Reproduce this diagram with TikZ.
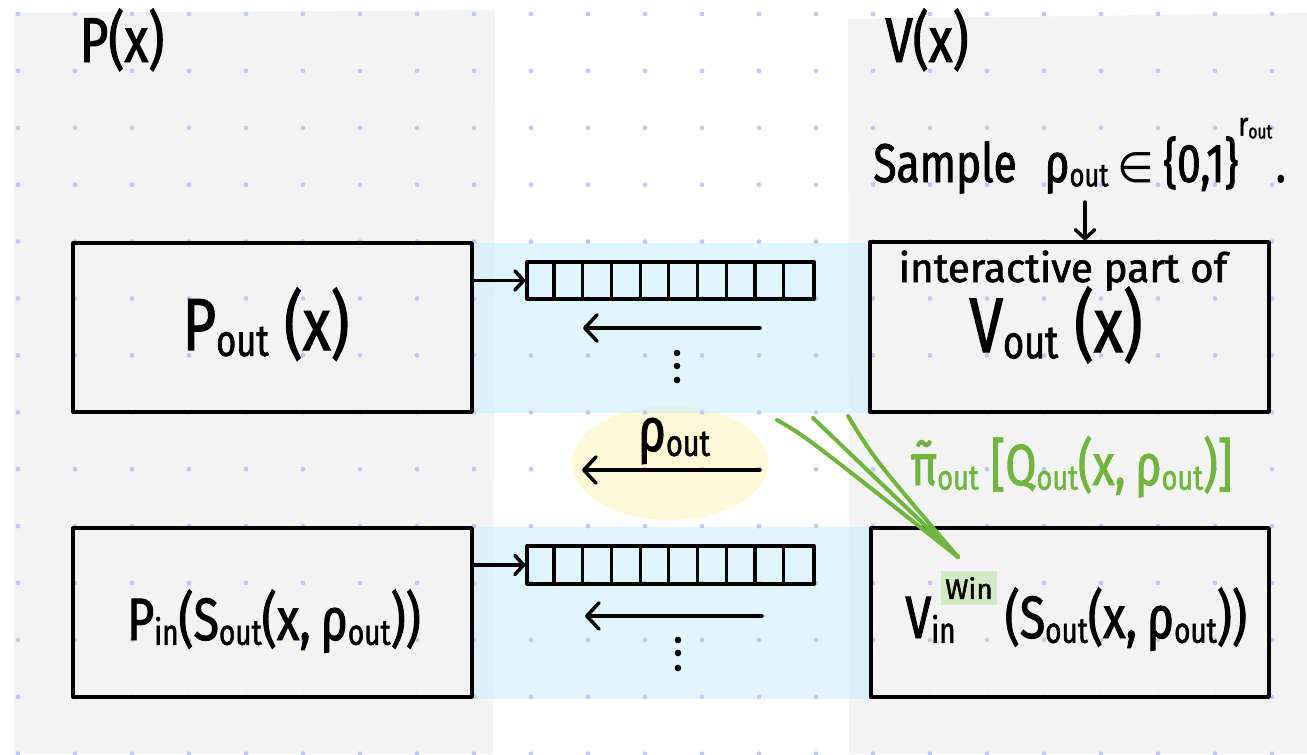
\documentclass[tikz,border=0pt]{standalone}
\usepackage{fontspec}
\usepackage{graphicx}
\setmainfont{Fira Sans}
\newfontfamily\hand[FakeStretch=0.78,FakeBold=1.5]{Fira Sans}
\newfontfamily\handw[FakeBold=1.5]{Fira Sans}
\newfontfamily\dvs{DejaVu Sans}
\usetikzlibrary{arrows.meta}
\definecolor{panel}{RGB}{243,243,243}
\definecolor{band}{RGB}{203,238,252}
\definecolor{yel}{RGB}{253,248,214}
\definecolor{dotc}{RGB}{198,198,243}
\definecolor{grn}{RGB}{113,181,64}
\definecolor{winbg}{RGB}{212,234,196}
\newcommand\lo[1]{\raisebox{-0.08em}{\scalebox{0.6}{#1}}}
\newcommand\hsz[1]{\fontsize{#1}{#1}\selectfont}
\begin{document}
\begin{tikzpicture}[x=0.02cm,y=-0.02cm,
  ink/.style={line width=2pt, line cap=round, line join=round},
  boxn/.style={draw, line width=2pt, line join=round, inner sep=0pt},
  arrn/.style={draw, line width=1.9pt, line join=round, inner sep=0pt},
  cell/.style={line width=1.8pt},
  backarr/.style={ink, -{Straight Barb[length=7pt,width=15pt,round]}},
  fwdarr/.style={ink, -{Straight Barb[length=5pt,width=11pt,round]}},
  gline/.style={draw=grn, line width=2.3pt, line cap=round, line join=round},
  lbl/.style={inner sep=0pt, anchor=base}]
\useasboundingbox (0,0) rectangle (1307,754);
% panels
\fill[panel] (14,13) -- (495,10) -- (493,754) -- (14,754) -- cycle;
\fill[panel] (848,19) -- (1307,13) -- (1307,754) -- (849,754) -- cycle;
% yellow blob
\fill[yel] (670,463) ellipse [x radius=98, y radius=57];
% bands
\fill[band, opacity=0.58] (472,243) rectangle (870,413);
\fill[band, opacity=0.58] (472,527) rectangle (870,699);
% dot grid
\foreach \i in {0,...,22} \foreach \j in {0,...,13}
  \fill[dotc] ({18+57*\i},{14+56.9*\j}) circle (2.4);
% headings
\node[lbl] (px) at (122,62) {\hand\hsz{36}P(x)};
\node[lbl] (vx) at (927,62) {\hand\hsz{36}V(x)};
% boxes
\node[boxn, minimum width=7.98cm, minimum height=3.38cm] (pout) at (272.5,327.5) {};
\node[boxn, minimum width=7.98cm, minimum height=3.38cm] (pin) at (272.5,612.5) {};
\node[boxn, minimum width=7.98cm, minimum height=3.40cm] (vout) at (1069.5,327) {};
\node[boxn, minimum width=7.96cm, minimum height=3.38cm] (vin) at (1070,612.5) {};
% box texts
\node[lbl] (tpout) at (266,350) {\hand\hsz{42}P\lo{out} (x)};
\node[lbl] (tint) at (1063,282) {\handw\hsz{23}interactive part of};
\node[lbl] (tvout) at (1056,352) {\hand\hsz{44}V\lo{out} (x)};
\node[lbl] (tpin) at (274,640) {\hand\hsz{34}P\lo{in}(S\lo{out}(x,\,ρ\lo{out}))};
\node[lbl, anchor=base west] (tvin) at (905,638) {\hand\hsz{34}V\lo{in}\hspace{28pt}(S\lo{out}(x,\,ρ\lo{out}))};
\node[fill=winbg, minimum width=1.12cm, minimum height=0.68cm, inner sep=0pt] (win) at (969,588) {\handw\hsz{16}Win};
% arrays
\node[arrn, minimum width=5.74cm, minimum height=0.74cm] (arr1) at (670.5,280.5) {};
\node[arrn, minimum width=5.74cm, minimum height=0.76cm] (arr2) at (670.5,565) {};
\foreach \k in {1,...,9} {
  \draw[cell] ([xshift=\k*0.574cm]arr1.north west) -- ([xshift=\k*0.574cm]arr1.south west);
  \draw[cell] ([xshift=\k*0.574cm]arr2.north west) -- ([xshift=\k*0.574cm]arr2.south west);
}
\draw[fwdarr] (pout.east |- arr1.west) -- (arr1.west);
\draw[fwdarr] (pin.east |- arr2.west) -- (arr2.west);
% back arrows
\coordinate (b1s) at (760,328); \coordinate (b1e) at (583,328);
\coordinate (b2s) at (762,616); \coordinate (b2e) at (585,616);
\coordinate (b3s) at (760,470); \coordinate (b3e) at (582,470);
\draw[backarr] (b1s) -- (b1e);
\draw[backarr] (b2s) -- (b2e);
\draw[backarr] (b3s) -- (b3e);
% vertical dots
\foreach \yy in {353,366,380} \fill (677,\yy) circle (3.3);
\foreach \yy in {640,653,668} \fill (678,\yy) circle (3.3);
% rho out
\node[lbl] (rho) at (674,451) {\hand\hsz{35}ρ\lo{out}};
% sample
\node[lbl, anchor=base west] (samp) at (873,182) {\hand\hsz{31}Sample\hspace{16pt}ρ\lo{out}\,{\dvs\hsz{24}∈}\,\{0,1\}\raisebox{0.85em}{\hsz{19}r\lo{out}}\hspace{2pt}.};
\coordinate (ds) at (1085,202);
\draw[fwdarr] (ds) -- (ds |- vout.north);
% green
\coordinate (g1) at (777,420);
\coordinate (g2) at (813,418);
\coordinate (g3) at (848,416);
\coordinate (gw) at (958,557);
\draw[gline] (g1) .. controls (805,436) .. (gw);
\draw[gline] (g2) -- (gw);
\draw[gline] (g3) .. controls (875,460) .. (gw);
\node[lbl, anchor=base west, text=grn] (gtxt) at (910,485) {\hand\hsz{33}π̃\lo{out} [Q\lo{out}(x,\,ρ\lo{out})]};
\end{tikzpicture}
\end{document}
